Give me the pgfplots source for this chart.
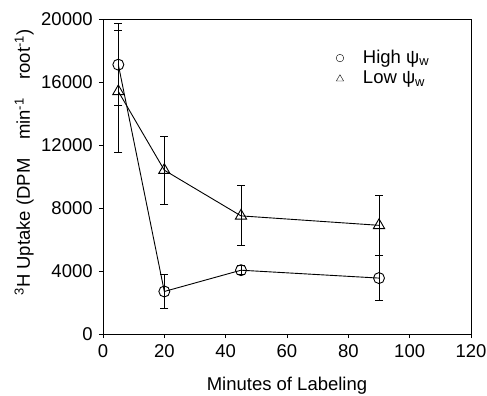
\documentclass[border=0pt]{standalone}
\usepackage{pgfplots}
\pgfplotsset{compat=1.18}
\usepackage{fontspec}
\setmainfont{Liberation Sans}
\pgfplotsset{legend image code/.code={\path[draw=none] (0pt,0pt) -- (26pt,0pt); \draw[#1,only marks] plot coordinates {(5pt,0pt)};}}
\begin{document}
\fontsize{18.5}{22}\selectfont
\begin{tikzpicture}[x=1pt,y=1pt]
\path[use as bounding box] (-103,-62) rectangle (384,334);
\begin{axis}[
  at={(0,0)}, anchor=south west,
  scale only axis, width=368pt, height=315pt,
  xmin=0, xmax=120, ymin=0, ymax=20000,
  xtick={0,20,...,120}, ytick={0,4000,...,20000},
  tick pos=left, tick align=outside, major tick length=4pt,
  scaled y ticks=false,
  /pgf/number format/assume math mode=true,
  /pgf/number format/1000 sep={},
  ticklabel style={font=\fontsize{18.5}{22}\selectfont},
  label style={font=\fontsize{18.5}{22}\selectfont},
  xlabel={Minutes of Labeling},
  ylabel={\textsuperscript{3}H Uptake (DPM\quad min\textsuperscript{-1}\quad root\textsuperscript{-1})},
  xlabel style={yshift=-7pt},
  ylabel style={yshift=-5pt, xshift=14pt},
  axis line style={line width=0.9pt},
  every tick/.style={line width=0.9pt, black},
  legend style={draw=none, fill=none, at={(axis cs:74.6,18300)}, anchor=north west,
    font=\fontsize{18.5}{22}\selectfont, row sep=1pt},
  legend cell align=left,
  clip=false,
]
\addlegendimage{only marks, mark=o, mark size=3.8pt, black}
\addlegendentry{High ψ\textsubscript{w}}
\addlegendimage{only marks, mark=triangle, mark size=4.2pt, black}
\addlegendentry{Low ψ\textsubscript{w}}
\addplot[black, line width=0.9pt, mark=o, mark size=5.5pt, mark options={fill=white},
  error bars/.cd, y dir=both, y explicit,
  error bar style={line width=0.9pt},
  error mark options={rotate=90, mark size=4pt, line width=0.9pt}]
  coordinates {
  (5,17100) +- (0,2600)
  (20,2700) +- (0,1100)
  (45,4050) +- (0,300)
  (90,3550) +- (0,1450)
  };
\addplot[black, line width=0.9pt, mark=triangle, mark size=6.5pt, mark options={fill=white},
  error bars/.cd, y dir=both, y explicit,
  error bar style={line width=0.9pt},
  error mark options={rotate=90, mark size=4pt, line width=0.9pt}]
  coordinates {
  (5,15400) +- (0,3900)
  (20,10400) +- (0,2150)
  (45,7500) +- (0,1900)
  (90,6900) +- (0,1900)
  };
\end{axis}
\end{tikzpicture}
\end{document}
